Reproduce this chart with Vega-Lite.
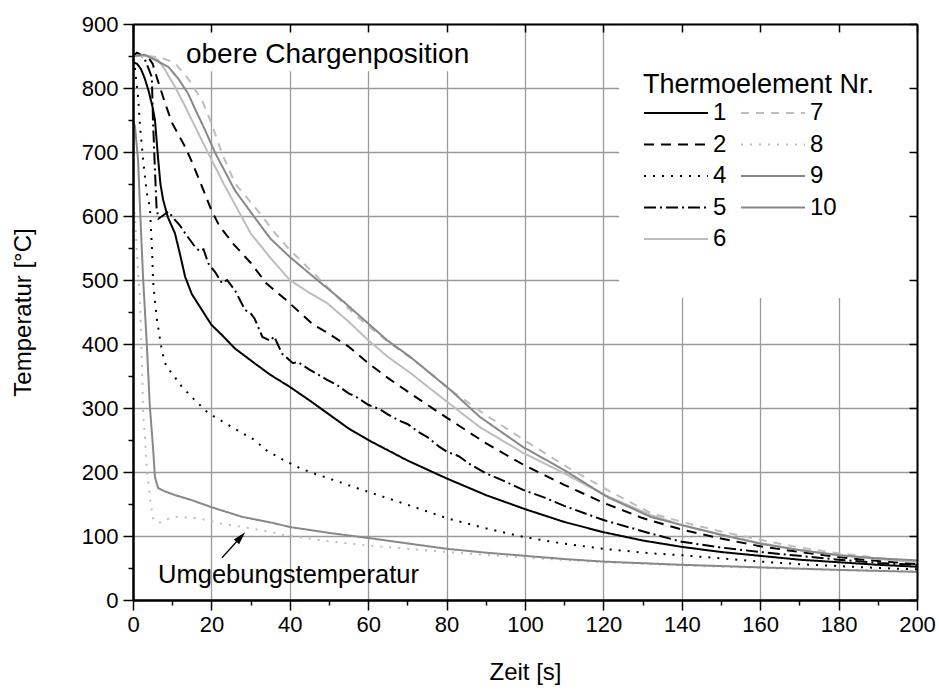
{
  "$schema": "https://vega.github.io/schema/vega-lite/v6.json",
  "width": 784,
  "height": 576,
  "autosize": "none",
  "padding": {"left": 133, "top": 24, "right": 22, "bottom": 91},
  "config": {"view": {"stroke": null}, "font": "Liberation Sans"},
  "datasets": {
    "curves": [
      {"id":"1","t":0,"T":840},{"id":"1","t":1,"T":838},{"id":"1","t":2,"T":830},{"id":"1","t":3,"T":815},{"id":"1","t":4,"T":795},{"id":"1","t":5,"T":770},{"id":"1","t":5.6,"T":750},{"id":"1","t":6.4,"T":690},{"id":"1","t":7,"T":650},{"id":"1","t":7.7,"T":625},{"id":"1","t":8.9,"T":598},{"id":"1","t":10.7,"T":573},{"id":"1","t":12,"T":540},{"id":"1","t":13.3,"T":505},{"id":"1","t":15,"T":478},{"id":"1","t":17.6,"T":453},{"id":"1","t":20,"T":430},{"id":"1","t":22.7,"T":414},{"id":"1","t":26,"T":393},{"id":"1","t":31,"T":370},{"id":"1","t":35,"T":352},{"id":"1","t":40,"T":333},{"id":"1","t":45,"T":312},{"id":"1","t":50,"T":290},{"id":"1","t":55,"T":268},{"id":"1","t":60,"T":250},{"id":"1","t":70,"T":218},{"id":"1","t":80,"T":190},{"id":"1","t":90,"T":164},{"id":"1","t":100,"T":142},{"id":"1","t":110,"T":122},{"id":"1","t":120,"T":106},{"id":"1","t":130,"T":93},{"id":"1","t":140,"T":83},{"id":"1","t":150,"T":75},{"id":"1","t":160,"T":69},{"id":"1","t":170,"T":63},{"id":"1","t":180,"T":59},{"id":"1","t":190,"T":55},{"id":"1","t":200,"T":52},
      {"id":"2","t":0,"T":850},{"id":"2","t":2,"T":850},{"id":"2","t":4,"T":847},{"id":"2","t":5,"T":838},{"id":"2","t":6,"T":818},{"id":"2","t":8.2,"T":776},{"id":"2","t":10,"T":745},{"id":"2","t":13.3,"T":708},{"id":"2","t":15,"T":685},{"id":"2","t":17.6,"T":646},{"id":"2","t":20,"T":609},{"id":"2","t":22,"T":585},{"id":"2","t":25.5,"T":557},{"id":"2","t":30,"T":527},{"id":"2","t":34,"T":495},{"id":"2","t":39,"T":469},{"id":"2","t":46,"T":430},{"id":"2","t":49.5,"T":418},{"id":"2","t":55,"T":396},{"id":"2","t":60,"T":370},{"id":"2","t":65,"T":347},{"id":"2","t":70.7,"T":323},{"id":"2","t":80,"T":285},{"id":"2","t":90,"T":245},{"id":"2","t":100,"T":210},{"id":"2","t":110,"T":180},{"id":"2","t":120,"T":152},{"id":"2","t":130,"T":128},{"id":"2","t":140,"T":110},{"id":"2","t":150,"T":96},{"id":"2","t":160,"T":84},{"id":"2","t":170,"T":75},{"id":"2","t":180,"T":67},{"id":"2","t":190,"T":61},{"id":"2","t":200,"T":56},
      {"id":"4","t":0,"T":845},{"id":"4","t":0.5,"T":830},{"id":"4","t":1.3,"T":786},{"id":"4","t":1.8,"T":739},{"id":"4","t":2.6,"T":687},{"id":"4","t":3.5,"T":636},{"id":"4","t":4.3,"T":614},{"id":"4","t":4.9,"T":542},{"id":"4","t":5.1,"T":500},{"id":"4","t":6,"T":442},{"id":"4","t":7.4,"T":388},{"id":"4","t":8.5,"T":365},{"id":"4","t":10.2,"T":352},{"id":"4","t":12.5,"T":333},{"id":"4","t":15,"T":317},{"id":"4","t":19.2,"T":292},{"id":"4","t":25.3,"T":270},{"id":"4","t":31,"T":250},{"id":"4","t":34,"T":234},{"id":"4","t":38,"T":220},{"id":"4","t":42.6,"T":206},{"id":"4","t":46,"T":198},{"id":"4","t":50,"T":190},{"id":"4","t":58,"T":173},{"id":"4","t":67,"T":155},{"id":"4","t":80,"T":128},{"id":"4","t":90,"T":112},{"id":"4","t":100,"T":98},{"id":"4","t":110,"T":88},{"id":"4","t":120,"T":80},{"id":"4","t":132,"T":73},{"id":"4","t":140,"T":70},{"id":"4","t":150,"T":65},{"id":"4","t":160,"T":60},{"id":"4","t":170,"T":56},{"id":"4","t":180,"T":53},{"id":"4","t":190,"T":50},{"id":"4","t":200,"T":48},
      {"id":"5","t":0,"T":850},{"id":"5","t":1,"T":855},{"id":"5","t":2,"T":852},{"id":"5","t":3,"T":845},{"id":"5","t":4,"T":830},{"id":"5","t":4.8,"T":817},{"id":"5","t":5.1,"T":750},{"id":"5","t":5.6,"T":672},{"id":"5","t":6,"T":614},{"id":"5","t":6.5,"T":596},{"id":"5","t":7.5,"T":600},{"id":"5","t":9,"T":607},{"id":"5","t":10.7,"T":594},{"id":"5","t":12,"T":585},{"id":"5","t":13.3,"T":573},{"id":"5","t":15.8,"T":552},{"id":"5","t":17,"T":545},{"id":"5","t":18,"T":548},{"id":"5","t":19.2,"T":526},{"id":"5","t":21,"T":512},{"id":"5","t":22.7,"T":495},{"id":"5","t":24,"T":500},{"id":"5","t":26,"T":484},{"id":"5","t":28.6,"T":453},{"id":"5","t":30,"T":448},{"id":"5","t":31,"T":440},{"id":"5","t":33,"T":411},{"id":"5","t":35,"T":405},{"id":"5","t":36,"T":412},{"id":"5","t":38,"T":385},{"id":"5","t":40.8,"T":370},{"id":"5","t":42,"T":372},{"id":"5","t":45,"T":360},{"id":"5","t":49.5,"T":344},{"id":"5","t":52,"T":336},{"id":"5","t":55,"T":323},{"id":"5","t":57,"T":317},{"id":"5","t":60,"T":305},{"id":"5","t":63,"T":298},{"id":"5","t":65,"T":290},{"id":"5","t":68,"T":280},{"id":"5","t":70,"T":275},{"id":"5","t":73,"T":262},{"id":"5","t":75,"T":255},{"id":"5","t":78,"T":240},{"id":"5","t":80,"T":232},{"id":"5","t":83,"T":225},{"id":"5","t":86,"T":212},{"id":"5","t":90,"T":198},{"id":"5","t":95,"T":185},{"id":"5","t":99.5,"T":172},{"id":"5","t":105,"T":160},{"id":"5","t":110,"T":147},{"id":"5","t":120,"T":125},{"id":"5","t":132,"T":104},{"id":"5","t":140,"T":91},{"id":"5","t":150,"T":82},{"id":"5","t":160,"T":75},{"id":"5","t":170,"T":69},{"id":"5","t":180,"T":63},{"id":"5","t":190,"T":58},{"id":"5","t":200,"T":55},
      {"id":"6","t":0,"T":850},{"id":"6","t":3,"T":850},{"id":"6","t":5,"T":848},{"id":"6","t":6.4,"T":844},{"id":"6","t":8,"T":830},{"id":"6","t":10.7,"T":802},{"id":"6","t":13,"T":775},{"id":"6","t":15,"T":750},{"id":"6","t":19.2,"T":698},{"id":"6","t":23.5,"T":646},{"id":"6","t":27.8,"T":598},{"id":"6","t":30,"T":573},{"id":"6","t":35,"T":535},{"id":"6","t":40,"T":500},{"id":"6","t":45,"T":480},{"id":"6","t":49.5,"T":464},{"id":"6","t":55,"T":435},{"id":"6","t":60,"T":406},{"id":"6","t":65,"T":380},{"id":"6","t":70.7,"T":355},{"id":"6","t":79,"T":315},{"id":"6","t":88.5,"T":270},{"id":"6","t":99.5,"T":230},{"id":"6","t":110,"T":198},{"id":"6","t":120,"T":165},{"id":"6","t":132,"T":133},{"id":"6","t":140,"T":117},{"id":"6","t":150,"T":102},{"id":"6","t":160,"T":89},{"id":"6","t":170,"T":78},{"id":"6","t":180,"T":70},{"id":"6","t":190,"T":64},{"id":"6","t":200,"T":59},
      {"id":"7","t":0,"T":850},{"id":"7","t":4,"T":850},{"id":"7","t":7.4,"T":847},{"id":"7","t":10.7,"T":839},{"id":"7","t":14,"T":815},{"id":"7","t":17.6,"T":781},{"id":"7","t":20,"T":745},{"id":"7","t":22.7,"T":698},{"id":"7","t":26,"T":651},{"id":"7","t":32.4,"T":604},{"id":"7","t":36,"T":575},{"id":"7","t":40,"T":547},{"id":"7","t":47,"T":505},{"id":"7","t":55.4,"T":453},{"id":"7","t":60,"T":428},{"id":"7","t":65.6,"T":401},{"id":"7","t":74,"T":364},{"id":"7","t":81,"T":328},{"id":"7","t":90,"T":289},{"id":"7","t":101,"T":245},{"id":"7","t":112,"T":203},{"id":"7","t":122.5,"T":167},{"id":"7","t":132,"T":136},{"id":"7","t":140,"T":122},{"id":"7","t":150,"T":107},{"id":"7","t":160,"T":94},{"id":"7","t":170,"T":82},{"id":"7","t":180,"T":73},{"id":"7","t":190,"T":66},{"id":"7","t":200,"T":60},
      {"id":"8","t":0,"T":620},{"id":"8","t":0.5,"T":600},{"id":"8","t":1,"T":542},{"id":"8","t":1.8,"T":469},{"id":"8","t":2.3,"T":364},{"id":"8","t":2.6,"T":290},{"id":"8","t":3,"T":260},{"id":"8","t":3.5,"T":208},{"id":"8","t":4.3,"T":161},{"id":"8","t":5.1,"T":128},{"id":"8","t":6,"T":121},{"id":"8","t":7.4,"T":121},{"id":"8","t":9,"T":127},{"id":"8","t":10.7,"T":130},{"id":"8","t":13,"T":129},{"id":"8","t":16.3,"T":128},{"id":"8","t":20,"T":123},{"id":"8","t":22.7,"T":119},{"id":"8","t":29,"T":113},{"id":"8","t":35.5,"T":106},{"id":"8","t":38,"T":102},{"id":"8","t":45,"T":96},{"id":"8","t":51,"T":91},{"id":"8","t":60,"T":85},{"id":"8","t":66,"T":82},{"id":"8","t":80,"T":75},{"id":"8","t":100,"T":66},{"id":"8","t":120,"T":59},{"id":"8","t":140,"T":54},{"id":"8","t":160,"T":50},{"id":"8","t":180,"T":47},{"id":"8","t":200,"T":45},
      {"id":"9","t":0,"T":850},{"id":"9","t":3,"T":852},{"id":"9","t":5.6,"T":844},{"id":"9","t":9,"T":833},{"id":"9","t":11.5,"T":815},{"id":"9","t":14,"T":792},{"id":"9","t":16,"T":765},{"id":"9","t":18.4,"T":734},{"id":"9","t":21,"T":698},{"id":"9","t":26,"T":640},{"id":"9","t":31,"T":598},{"id":"9","t":35,"T":565},{"id":"9","t":40,"T":536},{"id":"9","t":47,"T":500},{"id":"9","t":53,"T":470},{"id":"9","t":60,"T":432},{"id":"9","t":65,"T":405},{"id":"9","t":70.7,"T":380},{"id":"9","t":81,"T":328},{"id":"9","t":88.5,"T":286},{"id":"9","t":99.5,"T":239},{"id":"9","t":110,"T":203},{"id":"9","t":121,"T":161},{"id":"9","t":132,"T":130},{"id":"9","t":140,"T":117},{"id":"9","t":150,"T":102},{"id":"9","t":160,"T":88},{"id":"9","t":170,"T":78},{"id":"9","t":180,"T":70},{"id":"9","t":190,"T":65},{"id":"9","t":200,"T":62},
      {"id":"10","t":0,"T":750},{"id":"10","t":0.5,"T":740},{"id":"10","t":1.3,"T":687},{"id":"10","t":1.8,"T":610},{"id":"10","t":2.6,"T":500},{"id":"10","t":3.5,"T":402},{"id":"10","t":4.3,"T":302},{"id":"10","t":5.1,"T":239},{"id":"10","t":5.6,"T":192},{"id":"10","t":6.4,"T":175},{"id":"10","t":8,"T":170},{"id":"10","t":10.7,"T":164},{"id":"10","t":15,"T":156},{"id":"10","t":20,"T":145},{"id":"10","t":27.8,"T":130},{"id":"10","t":36,"T":120},{"id":"10","t":40,"T":114},{"id":"10","t":51,"T":104},{"id":"10","t":60,"T":97},{"id":"10","t":67,"T":91},{"id":"10","t":80,"T":80},{"id":"10","t":90,"T":74},{"id":"10","t":100,"T":69},{"id":"10","t":110,"T":64},{"id":"10","t":120,"T":60},{"id":"10","t":132,"T":57},{"id":"10","t":140,"T":55},{"id":"10","t":160,"T":51},{"id":"10","t":180,"T":47},{"id":"10","t":200,"T":44}
    ],
    "boxes": [
      {"x1": 11, "x2": 92, "y1": 826, "y2": 898},
      {"x1": 124, "x2": 200, "y1": 472, "y2": 900}
    ],
    "top_note": [{"label": "obere Chargenposition", "t": 13.5, "T": 839}],
    "low_note": [{"label": "Umgebungstemperatur", "t": 6.4, "T": 27}],
    "arrow": [{"t": 22.7, "T": 66, "t2": 27.5, "T2": 98.5}]
  },
  "layer": [
    {
      "data": {"name": "boxes"},
      "mark": {"type": "rect", "fill": "white", "strokeWidth": 0},
      "encoding": {
        "x": {"field": "x1", "type": "quantitative", "scale": {"domain": [0, 200], "nice": false},
              "axis": {"orient": "top", "values": [0,20,40,60,80,100,120,140,160,180,200], "labels": false, "title": null, "grid": false, "domain": true, "domainColor": "#000", "domainWidth": 2, "tickSize": -8, "tickColor": "#000", "tickWidth": 1.5, "zindex": 2}},
        "x2": {"field": "x2"},
        "y": {"field": "y1", "type": "quantitative", "scale": {"domain": [0, 900], "nice": false},
              "axis": {"orient": "right", "values": [0,100,200,300,400,500,600,700,800,900], "labels": false, "title": null, "grid": false, "domain": true, "domainColor": "#000", "domainWidth": 2, "tickSize": -8, "tickColor": "#000", "tickWidth": 1.5, "zindex": 2}},
        "y2": {"field": "y2"}
      }
    },
    {
      "data": {"name": "curves"},
      "transform": [{"filter": {"field": "id", "oneOf": ["1","2","4","5","6"]}}],
      "mark": {"type": "line", "strokeWidth": 2},
      "encoding": {
        "x": {"field": "t", "type": "quantitative", "scale": {"domain": [0, 200], "nice": false},
              "axis": {"orient": "bottom", "values": [0,20,40,60,80,100,120,140,160,180,200], "grid": true, "gridColor": "#9a9a9a", "gridWidth": 1.3, "domain": false, "tickSize": 10, "tickColor": "#000", "tickWidth": 1.5, "labelFontSize": 22, "labelColor": "#000", "labelFont": "Liberation Sans", "labelPadding": 4, "labelFlush": false, "labelOverlap": false, "title": "Zeit [s]", "titleFont": "Liberation Sans", "titleFontSize": 24, "titleFontWeight": "normal", "titleColor": "#000", "titleX": 392, "titleY": 79, "titleBaseline": "alphabetic", "titleAlign": "center", "zindex": 0}},
        "y": {"field": "T", "type": "quantitative", "scale": {"domain": [0, 900], "nice": false},
              "axis": {"orient": "left", "values": [0,100,200,300,400,500,600,700,800,900], "grid": true, "gridColor": "#9a9a9a", "gridWidth": 1.3, "domain": false, "tickSize": 10, "tickColor": "#000", "tickWidth": 1.5, "labelFontSize": 22, "labelColor": "#000", "labelFont": "Liberation Sans", "labelPadding": 5, "labelFlush": false, "labelOverlap": false, "title": "Temperatur [°C]", "titleFont": "Liberation Sans", "titleFontSize": 24, "titleFontWeight": "normal", "titleColor": "#000", "titleX": -103, "titleY": 288, "titleAngle": -90, "titleBaseline": "alphabetic", "titleAlign": "center", "zindex": 0}},
        "color": {"field": "id", "type": "nominal",
                  "scale": {"domain": ["1","2","4","5","6"], "range": ["#000000","#000000","#000000","#000000","#bdbdbd"]},
                  "legend": {"title": "Thermoelement Nr.", "orient": "none", "legendX": 510, "legendY": 48, "padding": 0, "titleFont": "Liberation Sans", "titleFontSize": 27, "titleFontWeight": "normal", "titleColor": "#000", "titlePadding": 3, "titleLimit": 500, "labelFont": "Liberation Sans", "labelFontSize": 24, "labelColor": "#000", "labelOffset": 4, "symbolType": "stroke", "symbolSize": 4096, "symbolStrokeWidth": 2, "clipHeight": 22, "rowPadding": 7.5}},
        "strokeDash": {"field": "id", "type": "nominal",
                  "scale": {"domain": ["1","2","4","5","6"], "range": [[1,0],[10,7],[2,7],[12,4,2,4],[1,0]]},
                  "legend": {"title": "Thermoelement Nr.", "orient": "none", "legendX": 510, "legendY": 48, "padding": 0, "titleFont": "Liberation Sans", "titleFontSize": 27, "titleFontWeight": "normal", "titleColor": "#000", "titlePadding": 3, "titleLimit": 500, "labelFont": "Liberation Sans", "labelFontSize": 24, "labelColor": "#000", "labelOffset": 4, "symbolType": "stroke", "symbolSize": 4096, "symbolStrokeWidth": 2, "clipHeight": 22, "rowPadding": 7.5}}
      }
    },
    {
      "data": {"name": "curves"},
      "transform": [{"filter": {"field": "id", "oneOf": ["7","8","9","10"]}}],
      "mark": {"type": "line", "strokeWidth": 2},
      "encoding": {
        "x": {"field": "t", "type": "quantitative", "scale": {"domain": [0, 200], "nice": false},
              "axis": {"orient": "bottom", "values": [10,30,50,70,90,110,130,150,170,190], "grid": false, "labels": false, "title": null, "domain": true, "domainColor": "#000", "domainWidth": 2.5, "tickSize": 5, "tickColor": "#000", "tickWidth": 1.5, "zindex": 2}},
        "y": {"field": "T", "type": "quantitative", "scale": {"domain": [0, 900], "nice": false},
              "axis": {"orient": "left", "values": [50,150,250,350,450,550,650,750,850], "grid": false, "labels": false, "title": null, "domain": true, "domainColor": "#000", "domainWidth": 2.5, "tickSize": 5, "tickColor": "#000", "tickWidth": 1.5, "zindex": 2}},
        "color": {"field": "id", "type": "nominal",
                  "scale": {"domain": ["7","8","9","10"], "range": ["#bdbdbd","#bdbdbd","#888888","#888888"]},
                  "legend": {"title": null, "orient": "none", "legendX": 607, "legendY": 78, "padding": 0, "labelFont": "Liberation Sans", "labelFontSize": 24, "labelColor": "#000", "labelOffset": 4, "symbolType": "stroke", "symbolSize": 4096, "symbolStrokeWidth": 2, "clipHeight": 22, "rowPadding": 7.5}},
        "strokeDash": {"field": "id", "type": "nominal",
                  "scale": {"domain": ["7","8","9","10"], "range": [[8,7],[2,7],[1,0],[1,0]]},
                  "legend": {"title": null, "orient": "none", "legendX": 607, "legendY": 78, "padding": 0, "labelFont": "Liberation Sans", "labelFontSize": 24, "labelColor": "#000", "labelOffset": 4, "symbolType": "stroke", "symbolSize": 4096, "symbolStrokeWidth": 2, "clipHeight": 22, "rowPadding": 7.5}}
      }
    },
    {
      "data": {"name": "top_note"},
      "mark": {"type": "text", "align": "left", "baseline": "alphabetic", "font": "Liberation Sans", "fontSize": 28, "color": "#000"},
      "encoding": {
        "x": {"field": "t", "type": "quantitative", "scale": {"domain": [0, 200], "nice": false}, "axis": null},
        "y": {"field": "T", "type": "quantitative", "scale": {"domain": [0, 900], "nice": false}, "axis": null},
        "text": {"field": "label"}
      }
    },
    {
      "data": {"name": "low_note"},
      "mark": {"type": "text", "align": "left", "baseline": "alphabetic", "font": "Liberation Sans", "fontSize": 25.5, "color": "#000"},
      "encoding": {
        "x": {"field": "t", "type": "quantitative", "scale": {"domain": [0, 200], "nice": false}, "axis": null},
        "y": {"field": "T", "type": "quantitative", "scale": {"domain": [0, 900], "nice": false}, "axis": null},
        "text": {"field": "label"}
      }
    },
    {
      "data": {"name": "arrow"},
      "mark": {"type": "rule", "color": "#000", "strokeWidth": 1.3},
      "encoding": {
        "x": {"field": "t", "type": "quantitative", "scale": {"domain": [0, 200], "nice": false}, "axis": null},
        "y": {"field": "T", "type": "quantitative", "scale": {"domain": [0, 900], "nice": false}, "axis": null},
        "x2": {"field": "t2"},
        "y2": {"field": "T2"}
      }
    },
    {
      "data": {"name": "arrow"},
      "mark": {"type": "point", "shape": "M0,-1L0.55,1L-0.55,1Z", "filled": true, "color": "#000", "opacity": 1, "size": 169, "angle": 42, "strokeWidth": 0},
      "encoding": {
        "x": {"field": "t2", "type": "quantitative", "scale": {"domain": [0, 200], "nice": false}, "axis": null},
        "y": {"field": "T2", "type": "quantitative", "scale": {"domain": [0, 900], "nice": false}, "axis": null}
      }
    }
  ],
  "resolve": {
    "scale": {"color": "independent", "strokeDash": "independent"},
    "axis": {"x": "independent", "y": "independent"}
  }
}
